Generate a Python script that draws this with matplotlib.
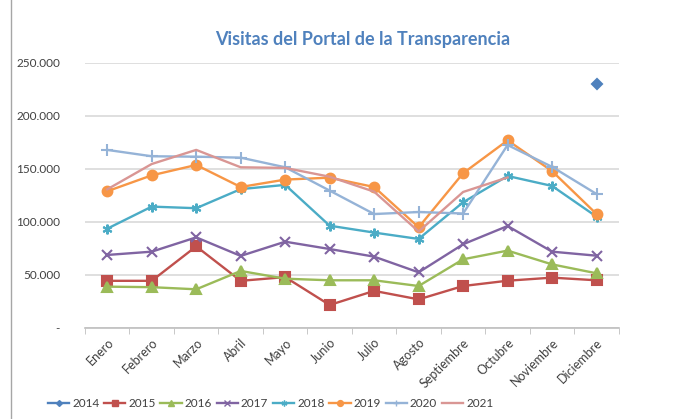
#!/usr/bin/env python3
"""Visitas del Portal de la Transparencia, by month and year."""

import matplotlib

matplotlib.use("Agg")
import matplotlib.pyplot as plt
import numpy as np
from matplotlib.lines import Line2D
from matplotlib.ticker import FuncFormatter

MONTHS = [
    "Enero", "Febrero", "Marzo", "Abril", "Mayo", "Junio",
    "Julio", "Agosto", "Septiembre", "Octubre", "Noviembre", "Diciembre",
]
NAN = np.nan

V2014 = [NAN] * 11 + [230000]
V2015 = [44500, 44500, 77000, 44500, 48000, 21700, 35000, 27000, 39600, 44600, 47500, 45000]
V2016 = [39000, 38500, 36500, 53800, 46500, 45000, 45000, 39600, 64800, 73000, 60000, 51600]
V2017 = [68900, 72000, 85500, 68000, 81400, 74500, 67300, 52500, 79000, 96200, 72000, 68200]
V2018 = [93700, 114500, 113000, 131000, 135000, 96500, 90000, 84000, 118600, 143400, 134000, 105000]
V2019 = [129000, 144000, 153800, 133000, 140000, 141800, 133000, 95000, 146000, 177000, 148000, 107500]
V2020 = [168000, 162000, 161600, 160700, 151600, 129600, 107500, 109400, 108000, 172600, 152000, 126400]
V2021 = [130800, 154700, 168000, 151600, 151000, 142700, 128600, 91000, 128300, 142000, NAN, NAN]

YEARS = ["2014", "2015", "2016", "2017", "2018", "2019", "2020", "2021"]
SERIES = [V2014, V2015, V2016, V2017, V2018, V2019, V2020, V2021]
COLORS = ["#4F81BD", "#C0504D", "#9BBB59", "#8064A2", "#4BACC6", "#F79646", "#95B3D7", "#D99694"]
MARKERS = ["D", "s", "^", "x", (6, 2, 0), "o", "+", None]
MSIZES = [5, 6.5, 6.5, 7, 7, 7, 8, 0]

plt.rcParams["font.family"] = ["Lato", "DejaVu Sans"]

fig = plt.figure(figsize=(6.8, 4.19), dpi=100)
ax = fig.add_axes([0.125, 0.2172, 0.785, 0.6325])

x = np.arange(len(MONTHS))
handles = []
for year, vals, color, marker, ms in zip(YEARS, SERIES, COLORS, MARKERS, MSIZES):
    ax.plot(
        x, vals, color=color, lw=1.7, marker=marker, ms=ms,
        mew=1.5, zorder=3,
    )
    handles.append(
        Line2D([], [], color=color, lw=1.7, marker=marker, ms=ms * 0.6, mew=1.0)
    )

ax.set_xlim(-0.5, 11.5)
ax.set_ylim(0, 250000)
ax.set_yticks(np.arange(0, 250001, 50000))
ax.yaxis.set_major_formatter(
    FuncFormatter(lambda v, _: "-" if v == 0 else f"{int(v):,}".replace(",", "."))
)
ax.grid(axis="y", color="#D9D9D9", lw=1.2)
ax.set_axisbelow(True)

ax.set_xticks(x)
ax.set_xticklabels(MONTHS, rotation=45, ha="right", rotation_mode="anchor",
                   fontsize=9, color="#404040")
ax.set_xticks(np.arange(-0.5, 12, 1), minor=True)
ax.tick_params(axis="x", which="major", length=0, pad=6)
ax.tick_params(axis="x", which="minor", length=4, color="#BFBFBF")
ax.tick_params(axis="y", length=0, labelsize=8.5, labelcolor="#404040", pad=18)

for side in ["top", "right", "left"]:
    ax.spines[side].set_visible(False)
ax.spines["bottom"].set_color("#BFBFBF")
ax.spines["bottom"].set_linewidth(1.2)

fig.text(0.534, 0.905, "Visitas del Portal de la Transparencia", ha="center",
         va="center", fontsize=13, fontweight="bold", color="#4F81BD")

fig.legend(handles, YEARS, loc="center", bbox_to_anchor=(0.398, 0.036), ncol=8,
           frameon=False, fontsize=8.5, handlelength=1.8, handletextpad=0.25,
           columnspacing=0.4, labelcolor="#404040")

fig.add_artist(Line2D([0.016, 0.016], [0, 1], color="#A6A6A6", lw=1,
                      transform=fig.transFigure))

fig.savefig("out.png", dpi=100)
